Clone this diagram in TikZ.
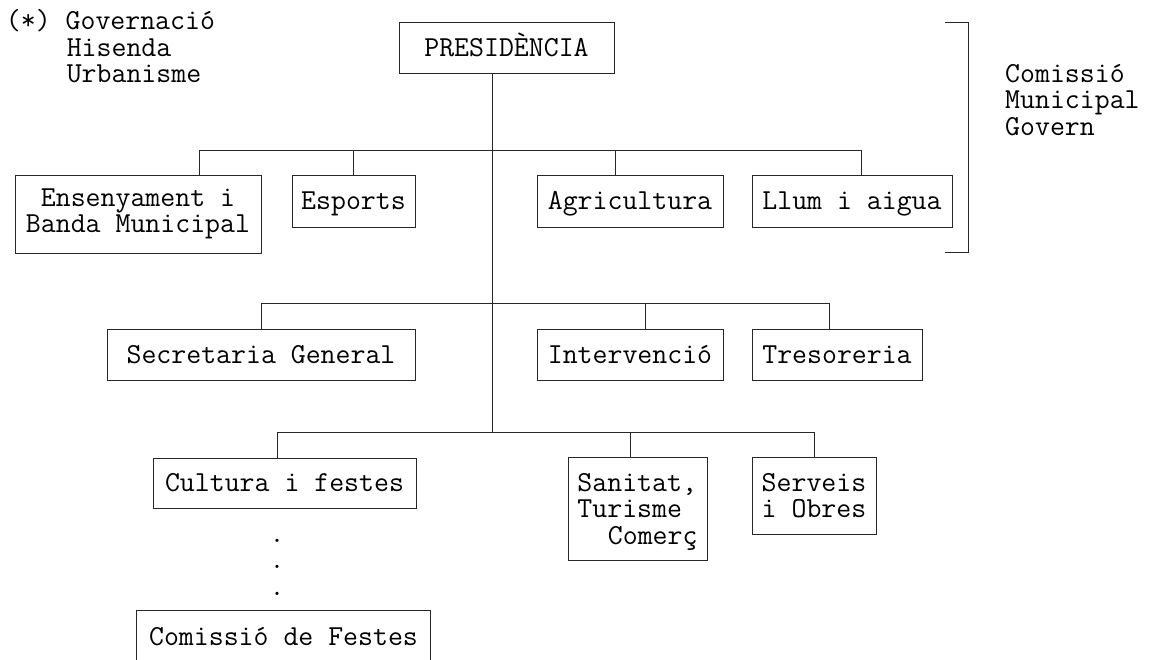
\documentclass[tikz,border=0pt]{standalone}
\usepackage{fontspec}
\newcommand\tallstrut{\rule{0pt}{26pt}}
\begin{document}
\begin{tikzpicture}[x=1pt,y=-1pt,
  txt/.style={font=\ttfamily\fontsize{29}{26.5}\selectfont, inner sep=0pt, text=black},
  box/.style={txt, draw=black!85, line width=0.9pt, align=center},
  one/.style={text height=24pt, text depth=7pt},
  ln/.style={draw=black!85, line width=0.9pt}]
\useasboundingbox (0,0) rectangle (1149,659);
% boxes
\node[box, one, minimum width=215pt, minimum height=51pt] (pres) at (506.5,47.5) {PRESIDÈNCIA};
\node[box, minimum width=246pt, minimum height=78pt] (ens) at (138,214) {\strut Ensenyament i\\\strut Banda Municipal};
\node[box, one, minimum width=123pt, minimum height=52pt] (esp) at (353.5,201) {Esports};
\node[box, one, minimum width=186pt, minimum height=52pt] (agr) at (630,201) {Agricultura};
\node[box, one, minimum width=200pt, minimum height=52pt] (llum) at (852,201) {Llum i aigua};
\node[box, one, minimum width=308pt, minimum height=51pt] (sec) at (261,354.5) {Secretaria General};
\node[box, one, minimum width=186pt, minimum height=51pt] (int) at (630,354.5) {Intervenció};
\node[box, one, minimum width=170pt, minimum height=51pt] (tre) at (837,354.5) {Tresoreria};
\node[box, one, minimum width=263pt, minimum height=50pt] (cul) at (284.5,483) {Cultura i festes};
\node[box, align=left, minimum width=139pt, minimum height=103pt] (san) at (637.5,508.5) {\tallstrut\strut Sanitat,\\\strut Turisme\\\strut\hspace*{1.05em}Comerç};
\node[box, align=left, minimum width=124pt, minimum height=77pt] (ser) at (814,495.5) {\tallstrut\strut Serveis\\\strut i Obres};
\node[txt, minimum width=293pt, minimum height=52pt] (cf) at (283.5,637) {Comissió de Festes};
\draw[ln] ([yshift=-30pt]cf.south west) -- (cf.north west) -- (cf.north east) -- ([yshift=-30pt]cf.south east);
% dots
\node[txt, align=center, anchor=north] (dots) at (277,523.5) {\strut.\\\strut.\\\strut.};
% side texts
\node[txt, align=left, anchor=north west] (gov) at (5.7,9.5) {\strut(*) Governació\\\strut\hspace*{2.1em}Hisenda\\\strut\hspace*{2.1em}Urbanisme};
\node[txt, align=left, anchor=north west] (cmg) at (1005,63.5) {\strut Comissió\\\strut Municipal\\\strut Govern};
% bracket
\coordinate (k1) at (945,22);
\coordinate (k2) at (968,22);
\coordinate (k3) at (968,252);
\coordinate (k4) at (945,252);
\draw[ln] (k1) -- (k2) -- (k3) -- (k4);
% junctions
\coordinate (r1) at (492,150);
\coordinate (r3) at (492,432);
\coordinate (a1) at (199,150);
\coordinate (a2) at (353,150);
\coordinate (a3) at (615,150);
\coordinate (a4) at (861,150);
\coordinate (b1) at (261,303);
\coordinate (b2) at (645,303);
\coordinate (b3) at (829,303);
\coordinate (c1) at (277,432);
\coordinate (c2) at (630,432);
\coordinate (c3) at (814,432);
\draw[ln] (pres.south -| r1) -- (r3);
\draw[ln] (ens.north -| a1) -- (a1) -- (a4) -- (llum.north -| a4);
\draw[ln] (esp.north -| a2) -- (a2);
\draw[ln] (agr.north -| a3) -- (a3);
\draw[ln] (sec.north -| b1) -- (b1) -- (b3) -- (tre.north -| b3);
\draw[ln] (int.north -| b2) -- (b2);
\draw[ln] (cul.north -| c1) -- (c1) -- (c3) -- (ser.north -| c3);
\draw[ln] (san.north -| c2) -- (c2);
\end{tikzpicture}
\end{document}
